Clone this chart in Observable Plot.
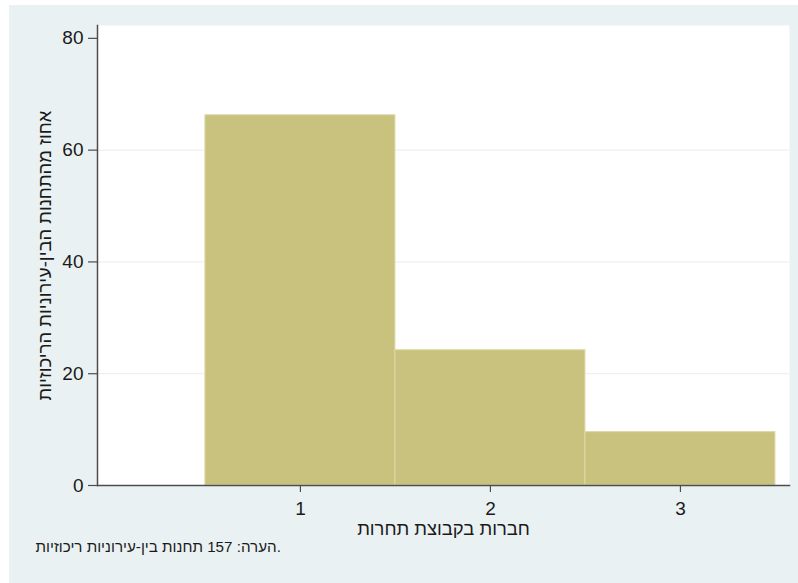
<!DOCTYPE html>
<html>
<head>
<meta charset="utf-8">
<script src="https://cdn.jsdelivr.net/npm/d3@7"></script>
<script src="https://cdn.jsdelivr.net/npm/@observablehq/plot@0.6"></script>
<style>
  html, body { margin: 0; padding: 0; background: #ffffff; }
  #wrap { position: relative; width: 798px; height: 583px; overflow: hidden; }
  #bg { position: absolute; left: 9px; top: 5px; width: 789px; height: 578px; background: #eaf1f3; }
  #chart { position: absolute; left: 0; top: 0; }
</style>
</head>
<body>
<div id="wrap"><div id="bg"></div><div id="chart"></div></div>
<script>
const categories = [1, 2, 3];
const percents = [66.24, 24.20, 9.55];
const yTicks = [0, 20, 40, 60, 80];
const gridValues = [20, 40, 60];
const xTitle = "חברות בקבוצת תחרות";
const yTitle = "אחוז מהתחנות הבין-עירוניות הריכוזיות";
const note = "הערה: 157 תחנות בין-עירוניות ריכוזיות.";

const data = categories.map((c, i) => ({c, p: percents[i]}));

const chart = Plot.plot({
  width: 798,
  height: 583,
  marginLeft: 97,
  marginRight: 9,
  marginTop: 25,
  marginBottom: 98,
  style: {fontFamily: "'Liberation Sans', Arial, sans-serif", background: "transparent", color: "#1a1a1a"},
  x: {domain: [-0.068, 3.574]},
  y: {domain: [0, 82.3]},
  marks: [
    Plot.frame({fill: "white", stroke: null}),
    Plot.ruleY(gridValues, {stroke: "#ececec", strokeWidth: 1}),
    Plot.rectY(data, {x1: d => d.c - 0.5, x2: d => d.c + 0.5, y: "p", fill: "#c9c17e", stroke: "#ddd8a6", strokeWidth: 1}),
    Plot.axisY({ticks: yTicks, tickSize: 9, tickPadding: 5, fontSize: 19, label: null, stroke: "#4d4d4d", strokeWidth: 1.2, color: "#1a1a1a"}),
    Plot.axisX({ticks: categories, tickFormat: d => String(d), tickSize: 7, tickPadding: 9, fontSize: 19, label: null, stroke: "#4d4d4d", strokeWidth: 1.2}),
    Plot.frame({anchor: "left", stroke: "#4d4d4d", strokeWidth: 1.5}),
    Plot.frame({anchor: "bottom", stroke: "#4d4d4d", strokeWidth: 1.5}),
    Plot.text([xTitle], {frameAnchor: "bottom", textAnchor: "middle", dy: 49, fontSize: 18.4, fill: "#1a1a1a"}),
    Plot.text([yTitle], {frameAnchor: "left", textAnchor: "middle", rotate: -90, dx: -52, fontSize: 18.4, fill: "#1a1a1a"}),
    Plot.text([note], {frameAnchor: "bottom-left", textAnchor: "start", dx: -62, dy: 66, fontSize: 15.2, fill: "#1a1a1a"})
  ]
});
document.getElementById("chart").appendChild(chart);
</script>
</body>
</html>
